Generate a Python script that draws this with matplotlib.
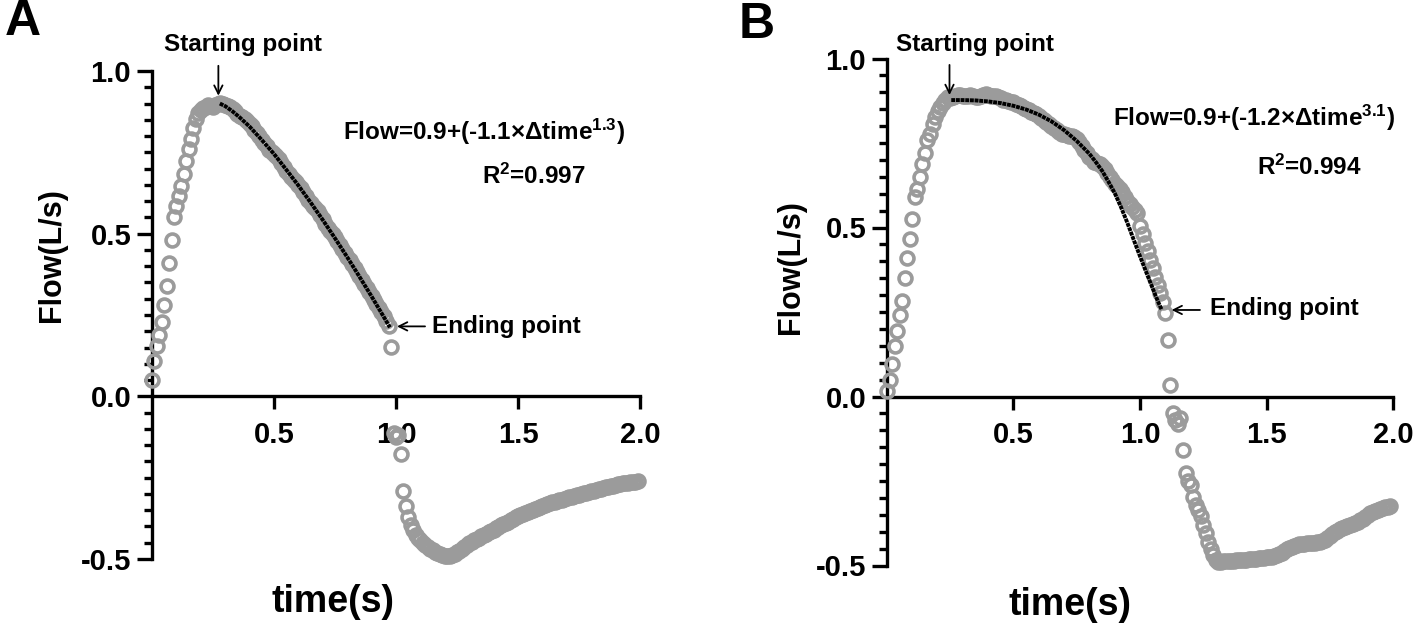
import numpy as np
import matplotlib
matplotlib.use("Agg")
import matplotlib.pyplot as plt
from matplotlib.ticker import MultipleLocator, FixedLocator

plt.rcParams['font.family'] = ['Liberation Sans', 'DejaVu Sans']
plt.rcParams['font.weight'] = 'bold'
plt.rcParams['mathtext.fontset'] = 'custom'
plt.rcParams['mathtext.rm'] = 'Liberation Sans:bold'
plt.rcParams['mathtext.bf'] = 'Liberation Sans:bold'
plt.rcParams['mathtext.it'] = 'Liberation Sans:bold'

# ---------------- data ----------------
# sampling interval of recorded flow: 0.01 s, from 0.00 to 1.99 s
time_step = 0.01

flow_A = [
    0.050, 0.110, 0.155, 0.190, 0.230, 0.280, 0.340, 0.410, 0.480, 0.550,
    0.585, 0.615, 0.648, 0.683, 0.722, 0.760, 0.790, 0.826, 0.853, 0.870,
    0.880, 0.885, 0.890, 0.895, 0.892, 0.890, 0.895, 0.900, 0.902, 0.900,
    0.895, 0.893, 0.888, 0.883, 0.876, 0.868, 0.862, 0.858, 0.852, 0.846,
    0.838, 0.830, 0.820, 0.810, 0.800, 0.789, 0.779, 0.768, 0.758, 0.752,
    0.746, 0.738, 0.730, 0.718, 0.705, 0.692, 0.682, 0.673, 0.666, 0.659,
    0.650, 0.640, 0.628, 0.615, 0.603, 0.594, 0.586, 0.578, 0.569, 0.557,
    0.544, 0.530, 0.518, 0.508, 0.499, 0.489, 0.478, 0.465, 0.452, 0.440,
    0.429, 0.418, 0.407, 0.395, 0.382, 0.370, 0.357, 0.345, 0.333, 0.321,
    0.309, 0.296, 0.284, 0.272, 0.259, 0.246, 0.232, 0.216, 0.152, -0.112,
    -0.125, -0.120, -0.178, -0.290, -0.338, -0.372, -0.395, -0.410, -0.425, -0.435,
    -0.443, -0.450, -0.456, -0.462, -0.468, -0.473, -0.478, -0.482, -0.486, -0.488,
    -0.490, -0.491, -0.491, -0.488, -0.484, -0.479, -0.474, -0.469, -0.463, -0.457,
    -0.452, -0.447, -0.443, -0.439, -0.434, -0.430, -0.426, -0.422, -0.418, -0.414,
    -0.410, -0.405, -0.401, -0.397, -0.393, -0.389, -0.385, -0.381, -0.377, -0.372,
    -0.368, -0.365, -0.362, -0.359, -0.356, -0.353, -0.350, -0.347, -0.344, -0.341,
    -0.338, -0.335, -0.332, -0.329, -0.326, -0.324, -0.322, -0.320, -0.318, -0.315,
    -0.312, -0.310, -0.308, -0.306, -0.304, -0.302, -0.300, -0.298, -0.296, -0.294,
    -0.292, -0.290, -0.288, -0.286, -0.284, -0.282, -0.280, -0.278, -0.277, -0.275,
    -0.273, -0.271, -0.269, -0.267, -0.266, -0.265, -0.264, -0.263, -0.262, -0.261,
]

flow_B = [
    0.015, 0.050, 0.096, 0.150, 0.195, 0.240, 0.283, 0.350, 0.410, 0.465,
    0.525, 0.590, 0.615, 0.650, 0.688, 0.720, 0.759, 0.776, 0.805, 0.828,
    0.845, 0.857, 0.868, 0.878, 0.885, 0.882, 0.885, 0.890, 0.893, 0.893,
    0.890, 0.888, 0.890, 0.893, 0.890, 0.885, 0.885, 0.888, 0.893, 0.895,
    0.893, 0.890, 0.888, 0.888, 0.886, 0.882, 0.878, 0.876, 0.875, 0.872,
    0.870, 0.866, 0.862, 0.858, 0.855, 0.852, 0.848, 0.843, 0.840, 0.835,
    0.830, 0.823, 0.818, 0.812, 0.806, 0.800, 0.795, 0.788, 0.782, 0.778,
    0.776, 0.775, 0.772, 0.770, 0.768, 0.762, 0.752, 0.742, 0.730, 0.720,
    0.710, 0.702, 0.695, 0.690, 0.688, 0.682, 0.672, 0.660, 0.650, 0.640,
    0.630, 0.622, 0.615, 0.605, 0.590, 0.578, 0.570, 0.560, 0.552, 0.542,
    0.505, 0.480, 0.455, 0.430, 0.405, 0.380, 0.355, 0.330, 0.305, 0.280,
    0.248, 0.167, 0.034, -0.050, -0.070, -0.080, -0.065, -0.158, -0.225, -0.250,
    -0.262, -0.296, -0.320, -0.335, -0.355, -0.380, -0.405, -0.430, -0.450, -0.470,
    -0.485, -0.490, -0.490, -0.488, -0.487, -0.487, -0.486, -0.486, -0.485, -0.485,
    -0.484, -0.484, -0.483, -0.482, -0.482, -0.481, -0.480, -0.479, -0.478, -0.477,
    -0.476, -0.475, -0.474, -0.472, -0.470, -0.466, -0.462, -0.457, -0.452, -0.448,
    -0.444, -0.441, -0.439, -0.437, -0.436, -0.435, -0.434, -0.433, -0.432, -0.432,
    -0.431, -0.430, -0.428, -0.425, -0.420, -0.414, -0.408, -0.402, -0.397, -0.393,
    -0.389, -0.386, -0.383, -0.380, -0.377, -0.374, -0.370, -0.366, -0.361, -0.356,
    -0.350, -0.346, -0.342, -0.338, -0.335, -0.332, -0.330, -0.328, -0.326, -0.325,
]

time_A = np.arange(len(flow_A)) * time_step
time_B = np.arange(len(flow_B)) * time_step

# fitted curves
fit_time_A = [0.278, 0.30, 0.33, 0.36, 0.40, 0.45, 0.50, 0.55, 0.60, 0.65,
              0.70, 0.75, 0.80, 0.85, 0.90, 0.95, 0.975]
fit_flow_A = [0.900, 0.892, 0.876, 0.857, 0.829, 0.788, 0.745, 0.697, 0.648, 0.596,
              0.542, 0.486, 0.428, 0.368, 0.307, 0.244, 0.212]

fit_time_B = [0.254, 0.30, 0.35, 0.40, 0.45, 0.50, 0.55, 0.60, 0.65, 0.70,
              0.75, 0.80, 0.825, 0.85, 0.875, 0.90, 0.925, 0.95, 0.975, 1.00,
              1.025, 1.05, 1.07, 1.086]
fit_flow_B = [0.877, 0.877, 0.876, 0.873, 0.868, 0.860, 0.849, 0.834, 0.814, 0.788,
              0.756, 0.718, 0.694, 0.668, 0.636, 0.602, 0.560, 0.514, 0.464, 0.415,
              0.367, 0.320, 0.283, 0.256]

x_ticks = [0.5, 1.0, 1.5, 2.0]
x_tick_labels = ["0.5", "1.0", "1.5", "2.0"]
y_ticks = [-0.5, 0.0, 0.5, 1.0]
y_tick_labels = ["-0.5", "0.0", "0.5", "1.0"]

eq_A = r"Flow=0.9+(-1.1×Δtime$^{\mathbf{1.3}}$)"
r2_A = r"R$^{\mathbf{2}}$=0.997"
eq_B = r"Flow=0.9+(-1.2×Δtime$^{\mathbf{3.1}}$)"
r2_B = r"R$^{\mathbf{2}}$=0.994"

# ---------------- figure ----------------
W, H = 1416, 627
fig = plt.figure(figsize=(W / 100, H / 100), dpi=100)


def fx(px):
    return px / W


def fy(py):
    return 1 - py / H


GRAY = "#9b9b9b"
SPW = 2.4


def make_axes(rect):
    ax = fig.add_axes(rect)
    ax.set_xlim(0, 2.0)
    ax.set_ylim(-0.5, 1.0)
    for s in ["top", "right"]:
        ax.spines[s].set_visible(False)
    ax.spines["left"].set_position(("data", 0))
    ax.spines["bottom"].set_position(("data", 0))
    for s in ["left", "bottom"]:
        ax.spines[s].set_linewidth(SPW)
    ax.xaxis.set_major_locator(FixedLocator(x_ticks))
    ax.set_xticklabels(x_tick_labels)
    ax.yaxis.set_major_locator(FixedLocator(y_ticks))
    ax.set_yticklabels(y_tick_labels)
    ax.yaxis.set_minor_locator(MultipleLocator(0.05))
    ax.tick_params(axis="x", which="major", direction="out", length=9.5,
                   width=SPW, labelsize=21, pad=8)
    ax.tick_params(axis="y", which="major", direction="out", length=11,
                   width=SPW, labelsize=21, pad=4)
    ax.tick_params(axis="y", which="minor", direction="out", length=6,
                   width=SPW)
    for lab in ax.get_xticklabels() + ax.get_yticklabels():
        lab.set_fontweight("bold")
    ax.patch.set_visible(False)
    return ax


axA = make_axes([fx(152), fy(559), fx(640) - fx(152), fy(71) - fy(559)])
axB = make_axes([fx(887), fy(565.5), fx(1393) - fx(887), fy(58.5) - fy(565.5)])

for ax, t, f, ft, ff in [(axA, time_A, flow_A, fit_time_A, fit_flow_A),
                         (axB, time_B, flow_B, fit_time_B, fit_flow_B)]:
    ax.plot(t, f, linestyle="none", marker="o", ms=9.3, mew=2.6,
            mfc="none", mec=GRAY, clip_on=False, zorder=3)
    ax.plot(ft, ff, color="black", lw=2.8, dashes=(1.0, 0.2),
            solid_capstyle="butt", zorder=4)

arrow_kw = dict(arrowstyle="->", lw=1.3, color="black", shrinkA=0, shrinkB=0,
                mutation_scale=15)

# Panel A annotations
axA.annotate("", xy=(0.272, 0.924), xytext=(0.272, 1.016),
             arrowprops=arrow_kw, annotation_clip=False)
axA.annotate("", xy=(1.004, 0.215), xytext=(1.119, 0.215),
             arrowprops=arrow_kw, annotation_clip=False)
fig.text(fx(243), fy(45), "Starting point", fontsize=17.5, fontweight="bold",
         ha="center", va="center")
fig.text(fx(432), fy(326), "Ending point", fontsize=17.5, fontweight="bold",
         ha="left", va="center")
fig.text(fx(343), fy(132), eq_A, fontsize=17.5, fontweight="bold",
         ha="left", va="center")
fig.text(fx(482), fy(176), r2_A, fontsize=17.5, fontweight="bold",
         ha="left", va="center")

# Panel B annotations
axB.annotate("", xy=(0.247, 0.892), xytext=(0.247, 0.981),
             arrowprops=arrow_kw, annotation_clip=False)
axB.annotate("", xy=(1.125, 0.256), xytext=(1.237, 0.256),
             arrowprops=arrow_kw, annotation_clip=False)
fig.text(fx(975), fy(44), "Starting point", fontsize=17.5, fontweight="bold",
         ha="center", va="center")
fig.text(fx(1210), fy(309), "Ending point", fontsize=17.5, fontweight="bold",
         ha="left", va="center")
fig.text(fx(1113), fy(118), eq_B, fontsize=17.5, fontweight="bold",
         ha="left", va="center")
fig.text(fx(1257), fy(167), r2_B, fontsize=17.5, fontweight="bold",
         ha="left", va="center")

# axis titles
fig.text(fx(333), fy(602), "time(s)", fontsize=27, fontweight="bold",
         ha="center", va="center")
fig.text(fx(1070), fy(605), "time(s)", fontsize=27, fontweight="bold",
         ha="center", va="center")
fig.text(fx(52), fy(255), "Flow(L/s)", fontsize=22, fontweight="bold",
         ha="center", va="center", rotation=90)
fig.text(fx(791), fy(267), "Flow(L/s)", fontsize=22, fontweight="bold",
         ha="center", va="center", rotation=90)

# panel letters
fig.text(fx(23), fy(22), "A", fontsize=36, fontweight="bold",
         ha="center", va="center")
fig.text(fx(757), fy(25), "B", fontsize=36, fontweight="bold",
         ha="center", va="center")

fig.savefig("out.png", dpi=100, facecolor="white")
